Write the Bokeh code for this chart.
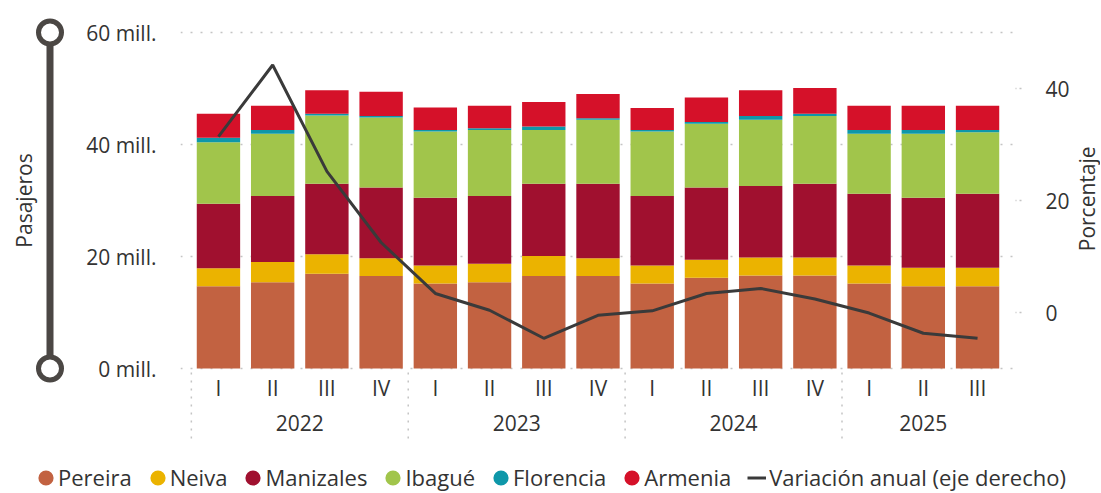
import math
from bokeh.plotting import figure
from bokeh.models import (FactorRange, Range1d, LinearAxis, FixedTicker, Legend,
                          LegendItem, ColumnDataSource)
from bokeh.layouts import row, column
from bokeh.embed import file_html
from bokeh.resources import INLINE
from bokeh.core.properties import value

# ---------------- data ----------------
years = ["2022"] * 4 + ["2023"] * 4 + ["2024"] * 4 + ["2025"] * 3
quarters = ["I", "II", "III", "IV"] * 3 + ["I", "II", "III"]

pereira   = [14.7, 15.4, 16.9, 16.5, 15.2, 15.4, 16.5, 16.5, 15.2, 16.2, 16.6, 16.6, 15.2, 14.7, 14.7]
neiva     = [3.2, 3.6, 3.5, 3.2, 3.2, 3.3, 3.6, 3.2, 3.2, 3.2, 3.2, 3.2, 3.2, 3.3, 3.3]
manizales = [11.5, 11.8, 12.6, 12.6, 12.1, 12.1, 12.9, 13.3, 12.4, 12.9, 12.8, 13.2, 12.8, 12.5, 13.2]
ibague    = [11.0, 11.1, 12.2, 12.5, 11.8, 11.8, 9.6, 11.4, 11.5, 11.4, 11.8, 12.1, 10.7, 11.4, 11.0]
florencia = [0.8, 0.7, 0.3, 0.3, 0.3, 0.3, 0.6, 0.3, 0.3, 0.3, 0.7, 0.4, 0.7, 0.7, 0.4]
armenia   = [4.3, 4.3, 4.2, 4.3, 4.0, 4.0, 4.4, 4.3, 3.9, 4.4, 4.6, 4.6, 4.3, 4.3, 4.3]
variacion = [31.4, 44.2, 25.2, 12.5, 3.4, 0.4, -4.6, -0.5, 0.3, 3.4, 4.3, 2.4, -0.1, -3.7, -4.6]

series_names = ["Pereira", "Neiva", "Manizales", "Ibagué", "Florencia", "Armenia"]
line_name = "Variación anual (eje derecho)"

y_ticks = [0, 20, 40, 60]
y_tick_labels = ["0 mill.", "20 mill.", "40 mill.", "60 mill."]
pct_offset = -10           # right axis value aligned with left-axis 0
pct_ticks = [0, 20, 40]
left_title = "Pasajeros"
right_title = "Porcentaje"

# ---------------- style / layout ----------------
colors = ["#C26241", "#EBB300", "#A0102F", "#A1C54B", "#0E97A9", "#D51129"]
line_color = "#3A3A3A"
text_color = "#333333"
deco_color = "#4B4744"
grid_color = "#C4C4C4"
FONT = "Open Sans"
FS = "21px"

PX = 5.6                   # px per unit on both y axes
Y_TOP_PX = 32              # page y of the 60 mill. line
Y_ZERO_PX = 368            # page y of the 0 line
H_TOP = 445
H_LEG = 48
MB_TOP = 17
LEFT_W = 70
MB_LEFT = 110
FRAME_W = 836
MB_RIGHT = 56
MAIN_W = MB_LEFT + FRAME_W + MB_RIGHT
RIGHT_W = 28
PAD_X = 0.2                # factor padding at both ends

y_hi = y_ticks[-1] + (Y_TOP_PX - MB_TOP) / PX
y_lo = y_ticks[0] - (H_TOP - Y_ZERO_PX) / PX
def px_below_zero(px):
    return y_ticks[0] - px / PX

factors = list(zip(years, quarters))
src = ColumnDataSource(dict(x=factors, Pereira=pereira, Neiva=neiva, Manizales=manizales,
                            **{"Ibagué": ibague}, Florencia=florencia, Armenia=armenia))

p = figure(x_range=FactorRange(factors=factors, range_padding=PAD_X, range_padding_units="absolute",
                               group_padding=0, factor_padding=0),
           y_range=Range1d(y_lo, y_hi),
           width=MAIN_W, height=H_TOP, output_backend="svg", toolbar_location=None,
           min_border_top=MB_TOP, min_border_bottom=0,
           min_border_left=MB_LEFT, min_border_right=MB_RIGHT,
           x_axis_location=None)
p.outline_line_color = None
p.extra_y_ranges = {"pct": Range1d(y_lo + pct_offset, y_hi + pct_offset)}

p.vbar_stack(series_names, x="x", width=0.8, color=colors, line_color=None, source=src)
p.line(x=factors, y=variacion, y_range_name="pct", line_color=line_color, line_width=3)

# category labels (quarters and years) under the bars; years/separators use
# synthetic categorical coordinates (factor i spans i .. i+1)
p.text(x=factors, y=[px_below_zero(19)] * len(factors), text=quarters,
       text_align="center", text_baseline="middle", text_font=value(FONT),
       text_font_size=FS, text_color=text_color)
year_names = sorted(set(years))
year_start = [float(years.index(yv)) for yv in year_names]
year_count = [years.count(yv) for yv in year_names]
year_mid = [s + c / 2 for s, c in zip(year_start, year_count)]
p.text(x=year_mid, y=[px_below_zero(54)] * len(year_names), text=year_names,
       text_align="center", text_baseline="middle", text_font=value(FONT),
       text_font_size=FS, text_color=text_color)
p.segment(x0=year_start, x1=year_start, y0=[px_below_zero(4)] * len(year_start),
          y1=[px_below_zero(72)] * len(year_start),
          line_color=grid_color, line_dash="2 6", line_width=1.5)

# left axis
ya = p.yaxis[0]
ya.ticker = FixedTicker(ticks=y_ticks)
ya.major_label_overrides = {t: l for t, l in zip(y_ticks, y_tick_labels)}
ya.axis_line_color = None
ya.major_tick_line_color = None
ya.minor_tick_line_color = None
ya.major_label_standoff = 18
ya.major_label_text_font = FONT
ya.major_label_text_font_size = FS
ya.major_label_text_color = text_color

# right axis
ra = LinearAxis(y_range_name="pct", ticker=FixedTicker(ticks=pct_ticks))
ra.axis_line_color = None
ra.major_tick_line_color = grid_color
ra.major_tick_line_dash = "2 3"
ra.major_tick_line_width = 1.5
ra.major_tick_in = 0
ra.major_tick_out = 6
ra.minor_tick_line_color = None
ra.major_label_standoff = 24
ra.major_label_text_font = FONT
ra.major_label_text_font_size = FS
ra.major_label_text_color = text_color
p.add_layout(ra, "right")

p.xgrid.visible = False
p.ygrid.ticker = FixedTicker(ticks=y_ticks)
p.ygrid.grid_line_color = grid_color
p.ygrid.grid_line_dash = "2 8"
p.ygrid.grid_line_width = 1.5

# left decoration panel (same vertical frame as the main plot)
pl = figure(width=LEFT_W, height=H_TOP, x_range=Range1d(0, LEFT_W), y_range=Range1d(y_lo, y_hi),
            output_backend="svg", toolbar_location=None,
            min_border_top=MB_TOP, min_border_bottom=0, min_border_left=0, min_border_right=0,
            x_axis_location=None, y_axis_location=None)
pl.outline_line_color = None
pl.grid.visible = False
cx = 49.5
pl.segment(x0=[cx], y0=[y_ticks[0]], x1=[cx], y1=[y_ticks[-1]], line_width=7, line_color=deco_color)
pl.scatter(x=[cx, cx], y=[y_ticks[0], y_ticks[-1]], size=23, fill_color="white",
           line_color=deco_color, line_width=5)
pl.text(x=[23], y=[(y_ticks[0] + y_ticks[-1]) / 2], text=[left_title], angle=math.pi / 2,
        text_align="center", text_baseline="middle", text_font=value(FONT),
        text_font_size=FS, text_color=text_color)

# right title panel
pr = figure(width=RIGHT_W, height=H_TOP, x_range=Range1d(0, RIGHT_W),
            y_range=Range1d(y_lo + pct_offset, y_hi + pct_offset),
            output_backend="svg", toolbar_location=None,
            min_border_top=MB_TOP, min_border_bottom=0, min_border_left=0, min_border_right=0,
            x_axis_location=None, y_axis_location=None)
pr.outline_line_color = None
pr.grid.visible = False
pr.text(x=[14], y=[(y_ticks[0] + y_ticks[-1]) / 2 + pct_offset + 0.3], text=[right_title],
        angle=math.pi / 2, text_align="center", text_baseline="middle", text_font=value(FONT),
        text_font_size=FS, text_color=text_color)

# legend panel
pg = figure(width=LEFT_W + MAIN_W + RIGHT_W, height=H_LEG, x_range=Range1d(0, 1), y_range=Range1d(0, 1),
            output_backend="svg", toolbar_location=None, min_border=0,
            x_axis_location=None, y_axis_location=None)
pg.outline_line_color = None
pg.grid.visible = False
nan = float("nan")
items = []
for n, c in zip(series_names, colors):
    r = pg.ellipse(x=[nan], y=[nan], width=15, height=15, width_units="screen",
                   height_units="screen", fill_color=c, line_color=None)
    items.append(LegendItem(label=n, renderers=[r]))
rl = pg.line(x=[nan], y=[nan], line_color=line_color, line_width=3)
items.append(LegendItem(label=line_name, renderers=[rl]))
legend = Legend(items=items, orientation="horizontal", location=(36, 1),
                glyph_width=19, glyph_height=19, label_standoff=3, spacing=16,
                padding=0, margin=0, border_line_color=None, background_fill_alpha=0,
                label_text_font=FONT, label_text_font_size="22px", label_text_color=text_color)
pg.add_layout(legend)

layout = column(row(pl, p, pr), pg)
open("out.html", "w").write(file_html(layout, INLINE))
